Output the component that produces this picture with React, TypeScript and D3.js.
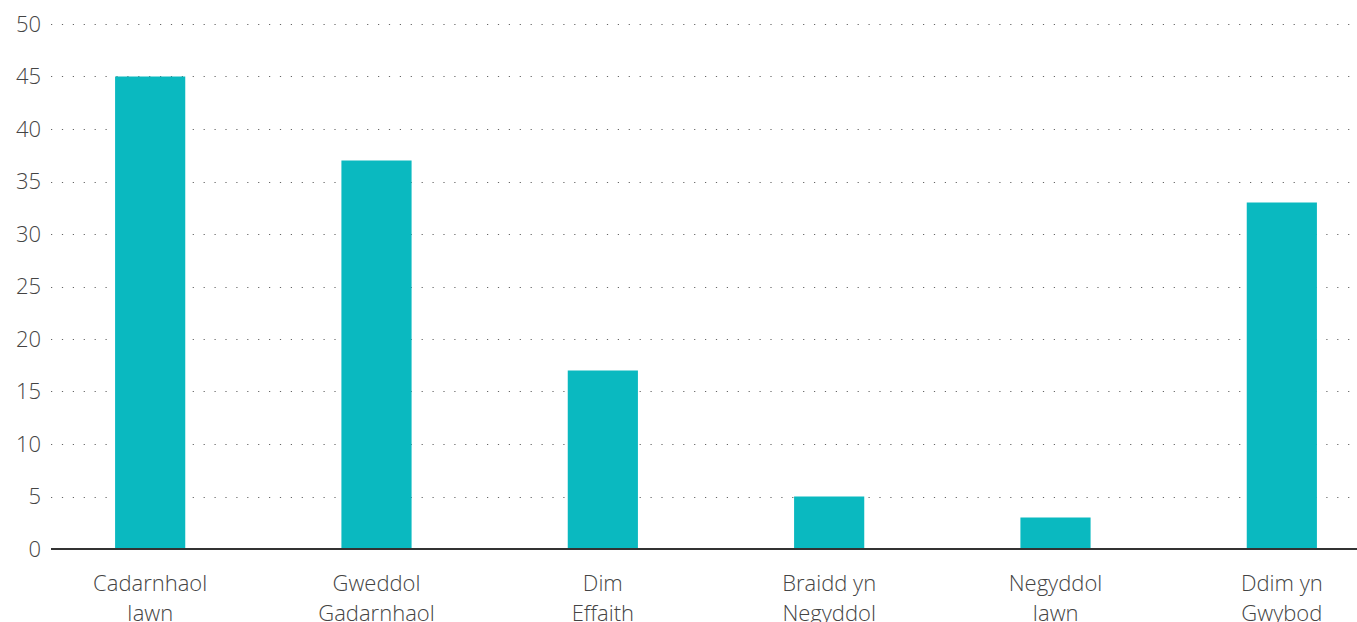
import * as d3 from 'd3';
import { useCallback } from 'react';

const categories = [
  ['Cadarnhaol', 'Iawn'],
  ['Gweddol', 'Gadarnhaol'],
  ['Dim', 'Effaith'],
  ['Braidd yn', 'Negyddol'],
  ['Negyddol', 'Iawn'],
  ['Ddim yn', 'Gwybod'],
];
const values = [45, 37, 17, 5, 3, 33];
const yTicks = [0, 5, 10, 15, 20, 25, 30, 35, 40, 45, 50];

const width = 1357;
const height = 622;
const barColor = '#0ab9c0';
const textColor = '#444';
const font = '"Open Sans", Lato, sans-serif';

const App = () => {
  const draw = useCallback((ref: SVGSVGElement | null) => {
    if (!ref) return;
    const svg = d3.select(ref);
    svg.selectAll('*').remove();

    const x = d3
      .scaleBand()
      .domain(categories.map((c) => c.join(' ')))
      .range([37, 1395])
      .paddingInner(0.69)
      .paddingOuter(0.345);

    const y = d3.scaleLinear().domain([0, 50]).range([549, 24]);

    // dotted gridlines
    svg
      .append('g')
      .selectAll('line')
      .data(yTicks.filter((t) => t > 0))
      .join('line')
      .attr('x1', 51)
      .attr('x2', width)
      .attr('y1', (d) => Math.round(y(d)) + 0.5)
      .attr('y2', (d) => Math.round(y(d)) + 0.5)
      .attr('stroke', '#666')
      .attr('stroke-width', 1.2)
      .attr('stroke-dasharray', '1.2 9.7');

    // y tick labels
    svg
      .append('g')
      .selectAll('text')
      .data(yTicks)
      .join('text')
      .attr('x', 41)
      .attr('y', (d) => y(d))
      .attr('dy', '0.36em')
      .attr('text-anchor', 'end')
      .attr('fill', textColor)
      .style('font-family', font)
      .style('font-weight', 300)
      .style('font-size', '22px')
      .text((d) => d);

    // bars
    svg
      .append('g')
      .selectAll('rect')
      .data(values)
      .join('rect')
      .attr('x', (_, i) => x(categories[i].join(' ')) ?? 0)
      .attr('width', x.bandwidth())
      .attr('y', (d) => y(d))
      .attr('height', (d) => y(0) - y(d))
      .attr('fill', barColor);

    // baseline
    svg
      .append('line')
      .attr('x1', 51)
      .attr('x2', width)
      .attr('y1', y(0))
      .attr('y2', y(0))
      .attr('stroke', '#333')
      .attr('stroke-width', 2);

    // category labels
    const labels = svg
      .append('g')
      .selectAll('text')
      .data(categories)
      .join('text')
      .attr('x', (d) => (x(d.join(' ')) ?? 0) + x.bandwidth() / 2)
      .attr('y', 591)
      .attr('text-anchor', 'middle')
      .attr('fill', textColor)
      .style('font-family', font)
      .style('font-weight', 300)
      .style('font-size', '22px');

    labels
      .selectAll('tspan')
      .data((d) => d)
      .join('tspan')
      .attr('x', function () {
        return (this.parentNode as SVGTextElement).getAttribute('x');
      })
      .attr('dy', (_, i) => (i === 0 ? 0 : 30))
      .text((d) => d);
  }, []);

  return (
    <div>
      <style>{`body { margin: 0; overflow: hidden; }`}</style>
      <svg width={width} height={height} ref={draw} style={{ display: 'block' }}></svg>
    </div>
  );
};

export default App;
